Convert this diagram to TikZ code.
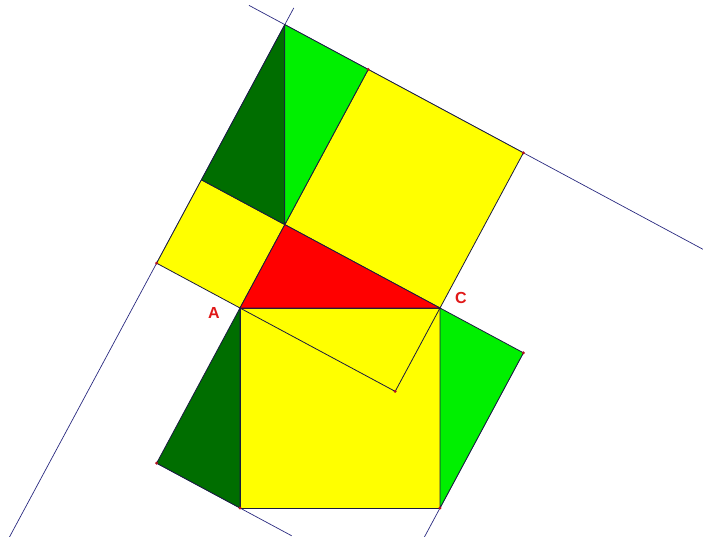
\documentclass[tikz,border=0pt]{standalone}
\usepackage{fontspec}
\setmainfont{Liberation Sans}
\usepackage{xcolor}
\usepackage{tikz}
\usetikzlibrary{calc}
\definecolor{pyellow}{HTML}{FFFF00}
\definecolor{pred}{HTML}{FF0000}
\definecolor{plight}{HTML}{00F000}
\definecolor{pdark}{HTML}{006E00}
\definecolor{pline}{HTML}{2A2A80}
\definecolor{pedge}{HTML}{1A1A40}
\definecolor{plabel}{HTML}{E01818}
\definecolor{pdot}{HTML}{B01020}

\begin{document}
\begin{tikzpicture}[x=1pt,y=1pt,
    face/.style={draw=pedge,line width=0.8pt,line join=round},
    guide/.style={draw=pline,line width=0.7pt},
    dot/.style={fill=pdot,circle,inner sep=0pt,minimum size=3.2pt},
    lbl/.style={text=plabel,font=\fontsize{16}{18}\selectfont\bfseries}]
      \useasboundingbox (0,0) rectangle (703,-537);
      % triangle
      \coordinate (A) at (240,-308);
      \coordinate (C) at (440,-308);
      \coordinate (B) at ($(340,-308)+(123.5:100)$);
      % squares on the sides
      \coordinate (A2) at ($(A)!1!90:(B)$);
      \coordinate (B2) at ($(B)!1!-90:(A)$);
      \coordinate (B3) at ($(B)!1!90:(C)$);
      \coordinate (C3) at ($(C)!1!-90:(B)$);
      \coordinate (T) at ($(B3)+(B2)-(B)$);
      \coordinate (D) at ($(A)!1!-90:(C)$);
      \coordinate (E) at ($(C)!1!90:(A)$);
      \coordinate (P) at ($(A)+(C)-(B)$);
      \coordinate (Q) at ($(D)+(A2)-(A)$);
      \coordinate (R) at ($(E)+(C3)-(C)$);
      % long lines
      \draw[guide] ($(T)!-0.15!(C3)$) -- ($(T)!1.8!(C3)$);
      \draw[guide] ($(A2)!1.07!(T)$) -- ($(A2)!-1.16!(T)$);
      \draw[guide] (Q) -- ($(Q)!1.62!(D)$);
      \draw[guide] (R) -- ($(R)!1.2!(E)$);
      % faces
      \filldraw[face,fill=pyellow] (A) -- (D) -- (E) -- (C) -- cycle;
      \draw[face] (A) -- (P) -- (C);
      \filldraw[face,fill=pdark] (A) -- (Q) -- (D) -- cycle;
      \filldraw[face,fill=plight] (C) -- (R) -- (E) -- cycle;
      \filldraw[face,fill=pyellow] (A) -- (A2) -- (B2) -- (B) -- cycle;
      \filldraw[face,fill=pyellow] (B) -- (B3) -- (C3) -- (C) -- cycle;
      \filldraw[face,fill=pdark] (B2) -- (T) -- (B) -- cycle;
      \filldraw[face,fill=plight] (T) -- (B3) -- (B) -- cycle;
      \filldraw[face,fill=pred] (A) -- (B) -- (C) -- cycle;
      % points
      \foreach \p in {A2,B3,C3,P,Q,R,D,E}
        \node[dot] at (\p) {};
      \node[lbl] (la) at (214,-313) {A};
      \node[lbl] (lc) at (461,-298) {C};
    \end{tikzpicture}
\end{document}
